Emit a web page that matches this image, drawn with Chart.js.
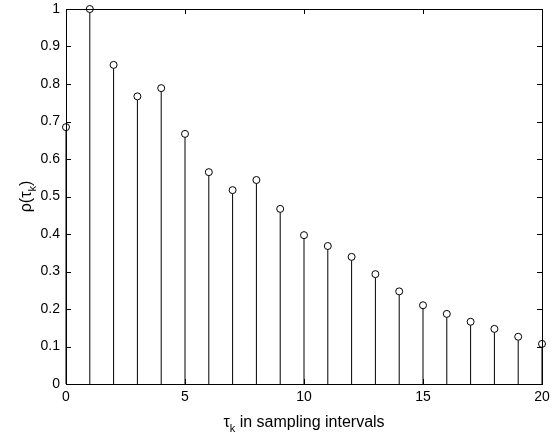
<!DOCTYPE html>
<html>
<head>
<meta charset="utf-8">
<script src="https://cdn.jsdelivr.net/npm/chart.js@4"></script>
<style>
  html, body { margin: 0; padding: 0; background: #fff; }
  #wrap { width: 557px; height: 437px; }
</style>
</head>
<body>
<div id="wrap"><canvas id="chart"></canvas></div>
<script>
// lag index and normalised correlation
const lags = [0, 1, 2, 3, 4, 5, 6, 7, 8, 9, 10, 11, 12, 13, 14, 15, 16, 17, 18, 19, 20];
const rho = [0.685, 1.0, 0.851, 0.767, 0.789, 0.667, 0.565, 0.517, 0.544, 0.467, 0.397,
             0.368, 0.339, 0.293, 0.247, 0.210, 0.187, 0.166, 0.147, 0.126, 0.107];
const xTicks = [0, 5, 10, 15, 20];
const yTicks = [0, 0.1, 0.2, 0.3, 0.4, 0.5, 0.6, 0.7, 0.8, 0.9, 1];

const FONT = '"Liberation Sans", Arial, Helvetica, sans-serif';
const points = lags.map((x, i) => ({ x: x, y: rho[i] }));

// matlab-ish box with inward ticks, plus the axis titles with subscripts
const boxPlugin = {
    id: 'box',
    afterDraw(chart) {
        const { ctx, chartArea: a, scales } = chart;
        ctx.save();
        ctx.strokeStyle = '#000';
        ctx.lineWidth = 1;
        ctx.strokeRect(Math.round(a.left) + 0.5, Math.round(a.top) + 0.5,
                       Math.round(a.right - a.left), Math.round(a.bottom - a.top));
        const len = 5;
        ctx.beginPath();
        for (const v of xTicks) {
            const px = Math.round(scales.x.getPixelForValue(v)) + 0.5;
            ctx.moveTo(px, a.bottom); ctx.lineTo(px, a.bottom - len);
            ctx.moveTo(px, a.top); ctx.lineTo(px, a.top + len);
        }
        for (const v of yTicks) {
            const py = Math.round(scales.y.getPixelForValue(v)) + 0.5;
            ctx.moveTo(a.left, py); ctx.lineTo(a.left + len, py);
            ctx.moveTo(a.right, py); ctx.lineTo(a.right - len, py);
        }
        ctx.stroke();

        ctx.fillStyle = '#000';
        ctx.textBaseline = 'alphabetic';
        // x title
        const big = '16px ' + FONT, small = '11px ' + FONT;
        ctx.font = big;
        const wTau = ctx.measureText('τ').width;
        const rest = ' in sampling intervals';
        const wRest = ctx.measureText(rest).width;
        ctx.font = small;
        const wK = ctx.measureText('k').width;
        let x0 = (a.left + a.right) / 2 - (wTau + wK + wRest) / 2;
        const yb = 427;
        ctx.font = big; ctx.fillText('τ', x0, yb);
        ctx.font = small; ctx.fillText('k', x0 + wTau, yb + 5);
        ctx.font = big; ctx.fillText(rest, x0 + wTau + wK, yb);

        // y title, rotated
        ctx.save();
        ctx.translate(31, (a.top + a.bottom) / 2);
        ctx.rotate(-Math.PI / 2);
        ctx.font = big;
        const w1 = ctx.measureText('ρ(τ').width;
        const w3 = ctx.measureText(')').width;
        let s0 = -(w1 + wK + w3) / 2;
        ctx.fillText('ρ(τ', s0, 0);
        ctx.font = small; ctx.fillText('k', s0 + w1, 5);
        ctx.font = big; ctx.fillText(')', s0 + w1 + wK, 0);
        ctx.restore();
        ctx.restore();
    }
};

new Chart(document.getElementById('chart'), {
    type: 'scatter',
    data: {
        datasets: [
            {
                type: 'scatter',
                data: points,
                pointStyle: 'circle',
                pointRadius: 3.5,
                pointBorderWidth: 1,
                pointBorderColor: '#000',
                pointBackgroundColor: '#fff',
                clip: false,
                order: 0
            },
            {
                type: 'bar',
                data: points,
                barThickness: 1,
                inflateAmount: 0,
                backgroundColor: '#000',
                borderWidth: 0,
                clip: false,
                order: 1
            }
        ]
    },
    options: {
        responsive: true,
        maintainAspectRatio: false,
        animation: false,
        layout: { padding: { left: 0, right: 15, top: 9, bottom: 0 } },
        plugins: {
            legend: { display: false },
            tooltip: { enabled: false }
        },
        scales: {
            x: {
                type: 'linear',
                min: 0, max: 20,
                offset: false,
                grid: { display: false, drawTicks: false },
                border: { display: false },
                afterBuildTicks: s => { s.ticks = xTicks.map(v => ({ value: v })); },
                afterFit: s => { s.height = 53; s.paddingLeft = 0; s.paddingRight = 0; },
                ticks: {
                    color: '#000',
                    padding: 5,
                    font: { family: FONT, size: 14 },
                    maxRotation: 0,
                    callback: v => String(v)
                }
            },
            y: {
                min: 0, max: 1,
                grid: { display: false, drawTicks: false },
                border: { display: false },
                afterBuildTicks: s => { s.ticks = yTicks.map(v => ({ value: v })); },
                afterFit: s => { s.width = 66; s.paddingTop = 0; s.paddingBottom = 0; },
                ticks: {
                    color: '#000',
                    padding: 6,
                    font: { family: FONT, size: 14 },
                    callback: v => String(+v.toFixed(1))
                }
            }
        }
    },
    plugins: [boxPlugin]
});
</script>
</body>
</html>
